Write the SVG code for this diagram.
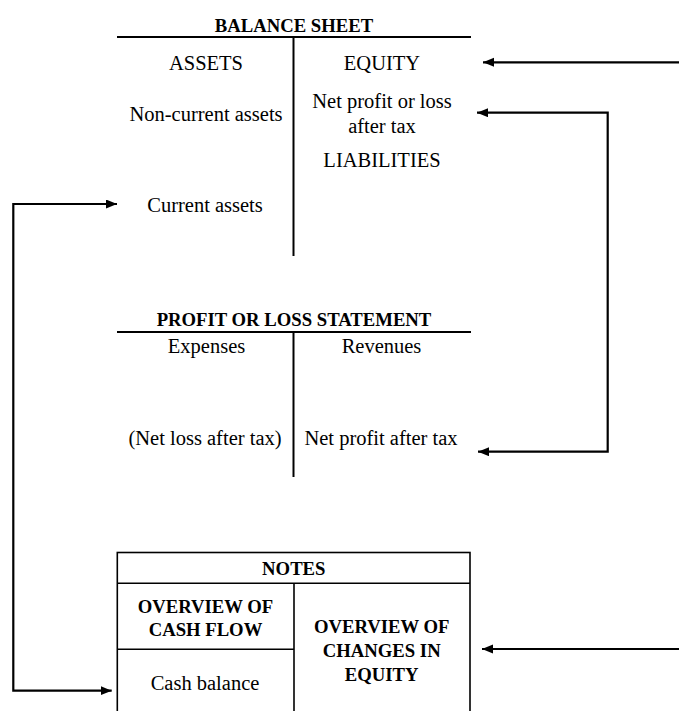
<svg xmlns="http://www.w3.org/2000/svg" width="679" height="711" viewBox="0 0 679 711">
<defs>
<style>
.r{font-family:"Liberation Serif","Times New Roman",serif;font-size:20.5px;fill:#000;text-anchor:middle}
.b{font-family:"Liberation Serif","Times New Roman",serif;font-size:18.7px;font-weight:bold;fill:#000;text-anchor:middle}
.t{stroke:#000;stroke-width:2;fill:none}
.bx{stroke:#000;stroke-width:1.6;fill:none}
.c{stroke:#000;stroke-width:2.2;fill:none}
</style>
<marker id="ah" markerUnits="userSpaceOnUse" markerWidth="12" markerHeight="10" refX="11" refY="4.5" orient="auto-start-reverse">
<path d="M0,0 L11,4.5 L0,9 z" fill="#000"/>
</marker>
</defs>
<rect width="679" height="711" fill="#fff"/>
<g id="balance-sheet">
<text class="b" x="294" y="31.5">BALANCE SHEET</text>
<line class="t" x1="117" y1="37" x2="471" y2="37"/>
<line class="t" x1="293.5" y1="37" x2="293.5" y2="256"/>
<text class="r" x="206" y="70">ASSETS</text>
<text class="r" x="382" y="70">EQUITY</text>
<text class="r" x="206" y="120.5">Non-current assets</text>
<text class="r" x="382" y="108.3">Net profit or loss</text>
<text class="r" x="382" y="133.3">after tax</text>
<text class="r" x="382" y="166.7">LIABILITIES</text>
<text class="r" x="205" y="212.3">Current assets</text>
</g>
<g id="profit-loss">
<text class="b" x="294" y="325.5">PROFIT OR LOSS STATEMENT</text>
<line class="t" x1="117" y1="332" x2="471" y2="332"/>
<line class="t" x1="293.5" y1="332" x2="293.5" y2="477"/>
<text class="r" x="206.5" y="353.3">Expenses</text>
<text class="r" x="381.5" y="353.3">Revenues</text>
<text class="r" x="205" y="445">(Net loss after tax)</text>
<text class="r" x="381" y="445">Net profit after tax</text>
</g>
<g id="notes">
<rect class="bx" x="117.3" y="552.5" width="352.7" height="170"/>
<line class="bx" x1="117.3" y1="583.3" x2="470" y2="583.3"/>
<line class="bx" x1="294" y1="583.3" x2="294" y2="722"/>
<line class="bx" x1="117.3" y1="649.3" x2="294" y2="649.3"/>
<text class="b" x="293.8" y="575">NOTES</text>
<text class="b" x="205.5" y="612.7">OVERVIEW OF</text>
<text class="b" x="205.5" y="636">CASH FLOW</text>
<text class="r" x="205" y="690">Cash balance</text>
<text class="b" x="381.7" y="633.3">OVERVIEW OF</text>
<text class="b" x="381.7" y="656.7">CHANGES IN</text>
<text class="b" x="381.7" y="680.7">EQUITY</text>
</g>
<g id="connectors">
<line class="c" x1="679" y1="62.3" x2="483" y2="62.3" marker-end="url(#ah)"/>
<polyline class="c" points="477,112.7 607.7,112.7 607.7,451.7 478,451.7" marker-start="url(#ah)" marker-end="url(#ah)"/>
<line class="c" x1="679" y1="649" x2="482" y2="649" marker-end="url(#ah)"/>
<polyline class="c" points="117,204 13.3,204 13.3,690.7 111.7,690.7" marker-start="url(#ah)" marker-end="url(#ah)"/>
</g>
</svg>
